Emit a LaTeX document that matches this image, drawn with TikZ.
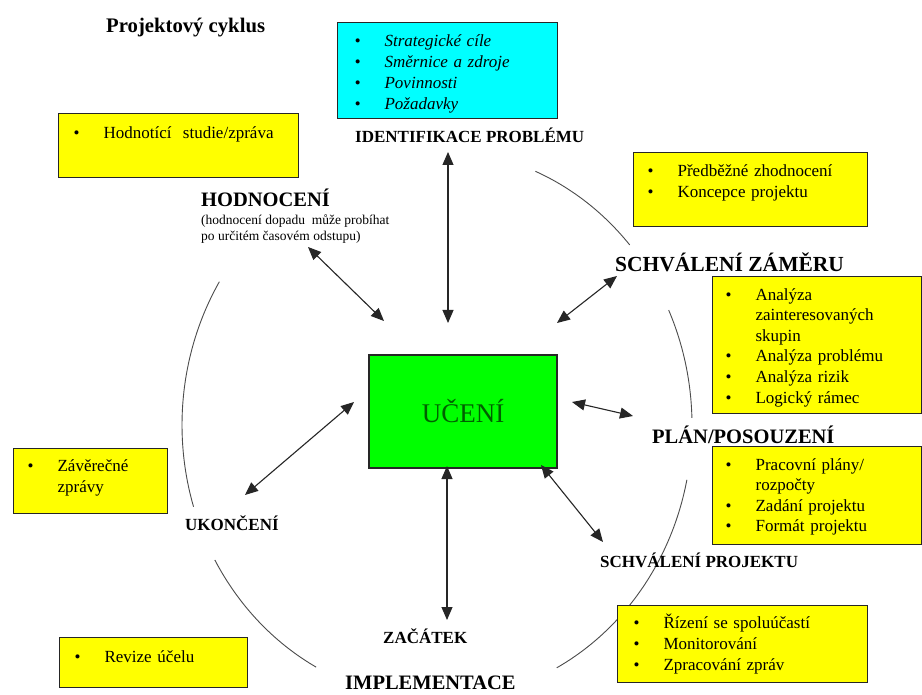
\documentclass[tikz,border=0pt]{standalone}
\usepackage{fontspec}
\setmainfont{Liberation Serif}
\usetikzlibrary{calc,arrows.meta}

% bullet lists inside the boxes
\newlength{\bulw}\setlength{\bulw}{30pt}
\newcommand{\bul}{\makebox[\bulw][l]{\textbullet}}
\newcommand{\bulcont}{\hspace*{\bulw}}
\newcommand{\padtop}[1]{\rule{0pt}{#1pt}}
\newcommand{\padbot}[1]{\rule[-#1pt]{0pt}{#1pt}}

% fonts
\newcommand{\titlefont}{\fontsize{20.7}{24}\selectfont\bfseries}
\newcommand{\phasefont}{\fontsize{20.5}{24}\selectfont\bfseries}
\newcommand{\subphasefont}{\fontsize{17}{20}\selectfont\bfseries}
\newcommand{\boxfont}{\fontsize{17}{21}\selectfont}
\newcommand{\notefont}{\fontsize{13.5}{16}\selectfont}

\begin{document}
\begin{tikzpicture}[x=1pt,y=-1pt]

% =========================
% Color Definitions
% =========================
\definecolor{boxyellow}{RGB}{255,255,0}
\definecolor{boxcyan}{RGB}{0,255,255}
\definecolor{ucgreen}{RGB}{0,255,0}
\definecolor{uctext}{RGB}{0,95,0}

\useasboundingbox[fill=white] (0,0) rectangle (922,695);

% =========================
% Styles
% =========================
\tikzset{
    infobox/.style={
        draw=black!85,
        line width=1.2pt,
        anchor=north west,
        align=left,
        inner ysep=0pt,
        font=\boxfont
    },
    phase/.style={anchor=base west, inner sep=0pt, font=\phasefont},
    subphase/.style={anchor=base west, inner sep=0pt, font=\subphasefont},
    dblarrow/.style={
        {Triangle[length=13pt,width=11pt]}-{Triangle[length=13pt,width=11pt]},
        line width=1.1pt, black!85
    },
    cyclearc/.style={black!70, line width=0.9pt}
}

% =========================
% Cycle (pieces of an ellipse)
% =========================
\coordinate (C) at (437,425);
\def\RX{255}
\def\RY{275}

\draw[cyclearc] (C) ++(-67.3:{\RX} and {\RY}) arc[start angle=-67.3, end angle=-40.9, x radius=\RX, y radius=\RY];
\draw[cyclearc] (C) ++(-24.7:{\RX} and {\RY}) arc[start angle=-24.7, end angle=-1.5, x radius=\RX, y radius=\RY];
\draw[cyclearc] (C) ++(11.5:{\RX} and {\RY}) arc[start angle=11.5, end angle=62, x radius=\RX, y radius=\RY];
\draw[cyclearc] (C) ++(150.6:{\RX} and {\RY}) arc[start angle=150.6, end angle=118.3, x radius=\RX, y radius=\RY];
\draw[cyclearc] (C) ++(-148.6:{\RX} and {\RY}) arc[start angle=-148.6, end angle=-197.3, x radius=\RX, y radius=\RY];

% =========================
% Title
% =========================
\node[font=\titlefont, anchor=base west, inner sep=0pt] (title) at (106,33) {Projektový cyklus};

% =========================
% Central box
% =========================
\node[draw=black!85, line width=1.2pt, fill=ucgreen, minimum width=188pt, minimum height=113pt,
      font=\fontsize{27}{30}\selectfont, text=uctext] (ucbox) at (463,411.5) {UČENÍ};

% =========================
% Info boxes
% =========================
% Identifikace
\node[infobox, fill=boxcyan, text width=186pt, inner xsep=17pt, font=\boxfont\itshape] (goalbox) at (337,22) {
    \bul\padtop{24}Strategické cíle\\
    \bul Směrnice a zdroje\\
    \bul Povinnosti\\
    \bul Požadavky\padbot{9}
};

% Hodnocení
\node[infobox, fill=boxyellow, text width=210pt, inner xsep=15pt] (evalbox) at (58,113) {
    \bul\padtop{25}Hodnotící~ studie/zpráva\padbot{39}
};

% Schválení záměru
\node[infobox, fill=boxyellow, text width=206pt, inner xsep=14pt] (ideabox) at (633,152) {
    \bul\padtop{23.5}Předběžné zhodnocení\\
    \bul Koncepce projektu\padbot{29.5}
};

% Plán/posouzení (analyses)
\node[infobox, fill=boxyellow, text width=183pt, inner xsep=13pt, font=\fontsize{17}{20.6}\selectfont] (anabox) at (712,276) {
    \bul\padtop{23.5}Analýza\\
    \bulcont zainteresovaných\\
    \bulcont skupin\\
    \bul Analýza problému\\
    \bul Analýza rizik\\
    \bul Logický rámec\padbot{10.5}
};

% Plán/posouzení (plans)
\node[infobox, fill=boxyellow, text width=183pt, inner xsep=13pt, font=\fontsize{17}{20.6}\selectfont] (planbox) at (712,446) {
    \bul\padtop{23.5}Pracovní plány/\\
    \bulcont rozpočty\\
    \bul Zadání projektu\\
    \bul Formát projektu\padbot{12.7}
};

% Implementace
\node[infobox, fill=boxyellow, text width=218pt, inner xsep=16pt] (implbox) at (617,605) {
    \bul\padtop{22.5}Řízení se spoluúčastí\\
    \bul Monitorování\\
    \bul Zpracování zpráv\padbot{12.5}
};

% Ukončení
\node[infobox, fill=boxyellow, text width=126pt, inner xsep=14pt] (endbox) at (13,448) {
    \bul\padtop{23}Závěrečné\\
    \bulcont zprávy\padbot{21}
};

% Revize
\node[infobox, fill=boxyellow, text width=158pt, inner xsep=15pt] (revbox) at (59,637) {
    \bul\padtop{24.5}Revize účelu\padbot{25.5}
};

% =========================
% Phase labels
% =========================
\node[subphase] (idlabel) at (355,143) {IDENTIFIKACE PROBLÉMU};
\node[phase] (evallabel) at (201,207) {HODNOCENÍ};
\node[anchor=north west, inner sep=0pt, align=left, font=\notefont] (evalnote) at (201,212)
    {\padtop{12}(hodnocení dopadu~ může probíhat\\po určitém časovém odstupu)};
\node[phase, font=\fontsize{21.5}{24}\selectfont\bfseries] (idealabel) at (615,272) {SCHVÁLENÍ ZÁMĚRU};
\node[phase] (planlabel) at (652,443) {PLÁN/POSOUZENÍ};
\node[subphase] (projlabel) at (600,567) {SCHVÁLENÍ PROJEKTU};
\node[subphase] (startlabel) at (383,643) {ZAČÁTEK};
\node[phase] (impllabel) at (345,689) {IMPLEMENTACE};
\node[subphase] (endlabel) at (185,530) {UKONČENÍ};

% =========================
% Arrows to and from the centre
% =========================
\coordinate (idA) at (448,152);   \coordinate (idB) at (448,323);
\coordinate (evalA) at (308,247); \coordinate (evalB) at (384,321);
\coordinate (ideaA) at (557,323); \coordinate (ideaB) at (617,276);
\coordinate (planA) at (572,402); \coordinate (planB) at (633,416);
\coordinate (projA) at (541,465); \coordinate (projB) at (603,542);
\coordinate (startA) at (447,466); \coordinate (startB) at (447,620);
\coordinate (endA) at (354,402);  \coordinate (endB) at (245,495);

\draw[dblarrow] (idA) -- (idB);
\draw[dblarrow] (evalA) -- (evalB);
\draw[dblarrow] (ideaA) -- (ideaB);
\draw[dblarrow] (planA) -- (planB);
\draw[dblarrow] (projA) -- (projB);
\draw[dblarrow] (startA) -- (startB);
\draw[dblarrow] (endA) -- (endB);

\end{tikzpicture}
\end{document}
